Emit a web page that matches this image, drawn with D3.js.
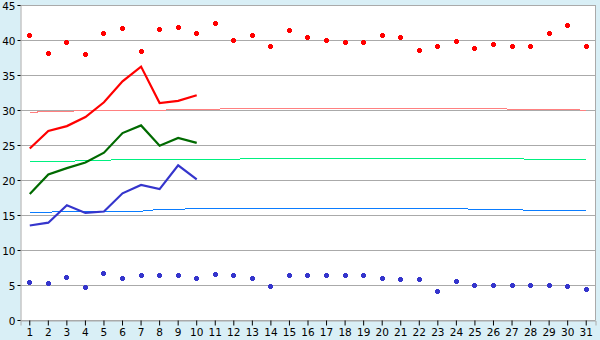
<!DOCTYPE html>
<html>
<head>
<meta charset="utf-8">
<script src="https://cdn.jsdelivr.net/npm/d3@7"></script>
<style>
  body { margin: 0; background: #d9eff6; }
  svg { display: block; font-family: "DejaVu Sans", Verdana, sans-serif; font-size: 10.5px; }
</style>
</head>
<body>
<svg id="chart" width="600" height="340"></svg>
<script>
// days of month
var days = d3.range(1, 32);
var yTicks = [0, 5, 10, 15, 20, 25, 30, 35, 40, 45];

// record highs / lows (markers)
var recordHigh = [40.7, 38.1, 39.7, 38.0, 41.0, 41.7, 38.4, 41.5, 41.8, 41.0,
  42.4, 40.0, 40.7, 39.0, 41.4, 40.4, 40.0, 39.7, 39.7, 40.7,
  40.4, 38.5, 39.0, 39.8, 38.8, 39.4, 39.0, 39.1, 41.0, 42.0, 39.0];
var recordLow = [5.4, 5.2, 6.1, 4.7, 6.7, 6.0, 6.4, 6.4, 6.4, 6.0,
  6.5, 6.4, 6.0, 4.8, 6.4, 6.4, 6.4, 6.4, 6.4, 6.0,
  5.8, 5.8, 4.1, 5.5, 5.0, 5.0, 5.0, 5.0, 5.0, 4.8, 4.4];

// this month (days 1-10)
var maxTemp = [24.5, 27.0, 27.7, 29.0, 31.1, 34.1, 36.2, 31.0, 31.3, 32.1];
var meanTemp = [18.0, 20.8, 21.7, 22.5, 23.9, 26.7, 27.8, 24.9, 26.0, 25.3];
var minTemp = [13.5, 13.9, 16.4, 15.3, 15.5, 18.1, 19.3, 18.7, 22.1, 20.1];

// normals
var normMax = [29.65, 29.8, 29.8, 29.95, 29.95, 29.95, 29.95, 29.95, 30.1, 30.1,
  30.1, 30.25, 30.25, 30.25, 30.25, 30.25, 30.25, 30.25, 30.25, 30.25,
  30.25, 30.25, 30.25, 30.25, 30.25, 30.25, 30.1, 30.1, 30.1, 30.1, 29.95];
var normMean = [22.65, 22.65, 22.65, 22.8, 22.8, 22.95, 22.95, 22.95, 22.95, 22.95,
  22.95, 22.95, 23.1, 23.1, 23.1, 23.1, 23.1, 23.1, 23.1, 23.1,
  23.1, 23.1, 23.1, 23.1, 23.1, 23.1, 23.1, 22.95, 22.95, 22.95, 22.95];
var normMin = [15.4, 15.4, 15.55, 15.55, 15.55, 15.55, 15.55, 15.8, 15.8, 15.95,
  15.95, 15.95, 15.95, 15.95, 15.95, 15.95, 15.95, 15.95, 15.95, 15.95,
  15.95, 15.95, 15.95, 15.95, 15.8, 15.8, 15.8, 15.65, 15.65, 15.65, 15.65];

var margin = {top: 5, right: 5, bottom: 20, left: 20};
var width = 600 - margin.left - margin.right;
var height = 340 - margin.top - margin.bottom;

var svg = d3.select('#chart');

svg.append('rect')
  .attr('x', margin.left + 0.5)
  .attr('y', margin.top)
  .attr('width', width)
  .attr('height', height)
  .attr('fill', '#fff');

var g = svg.append('g')
  .attr('transform', 'translate(' + margin.left + ',' + margin.top + ')');

var x = d3.scaleBand()
  .domain(days)
  .range([0.5, width + 0.5]);

var y = d3.scaleLinear()
  .domain([0, 45])
  .range([height, 0]);

var cx = function(d) { return x(d) + x.bandwidth() / 2; };

// grid
g.selectAll('.grid')
  .data(yTicks)
  .enter().append('line')
  .attr('class', 'grid')
  .attr('x1', 0.5)
  .attr('x2', width + 0.5)
  .attr('y1', (d) => Math.round(y(d)) + 0.5)
  .attr('y2', (d) => Math.round(y(d)) + 0.5)
  .attr('stroke', '#aaaaaa');

// right border
g.append('line')
  .attr('x1', width + 0.5).attr('x2', width + 0.5)
  .attr('y1', 0).attr('y2', height)
  .attr('stroke', '#aaaaaa');

// axes
var yAxis = g.append('g')
  .attr('transform', 'translate(0.5,0)')
  .call(d3.axisLeft(y).tickValues(yTicks).tickSize(3).tickPadding(2));

var xAxis = g.append('g')
  .attr('transform', 'translate(0,' + (height + 0.5) + ')')
  .call(d3.axisBottom(x).tickSize(5).tickPadding(3));

[yAxis, xAxis].forEach(function(a) {
  a.select('.domain').attr('stroke', '#aaaaaa');
  a.selectAll('.tick line').attr('stroke', '#000');
  a.selectAll('text')
    .attr('fill', '#000')
    .style('font-family', '"DejaVu Sans", Verdana, sans-serif')
    .style('font-size', '10.5px');
});
yAxis.selectAll('text').attr('dy', '0.45em');
yAxis.selectAll('.tick').attr('transform', (d) => 'translate(0,' + (Math.round(y(d)) + 0.5) + ')');

// lines
function drawLine(vals, color, w, crisp) {
  var line = d3.line()
    .x((d, i) => cx(days[i]))
    .y((d) => y(d));
  var p = g.append('path')
    .datum(vals)
    .attr('d', line)
    .attr('fill', 'none')
    .attr('stroke', color)
    .attr('stroke-width', w);
  if (crisp) p.attr('shape-rendering', 'crispEdges');
}

drawLine(normMax, '#ff8080', 1, true);
drawLine(normMean, '#00f080', 1, true);
drawLine(normMin, '#0a7cff', 1, true);

drawLine(maxTemp, '#ff0000', 2.2);
drawLine(meanTemp, '#006a00', 2.2);
drawLine(minTemp, '#3535cc', 2.2);

// markers: small plus
var plus = {
  draw: function(ctx, size) {
    var a = 1.5, b = 2.5;
    ctx.moveTo(-a, -b); ctx.lineTo(a, -b); ctx.lineTo(a, -a); ctx.lineTo(b, -a);
    ctx.lineTo(b, a); ctx.lineTo(a, a); ctx.lineTo(a, b); ctx.lineTo(-a, b);
    ctx.lineTo(-a, a); ctx.lineTo(-b, a); ctx.lineTo(-b, -a); ctx.lineTo(-a, -a);
    ctx.closePath();
  }
};
var sym = d3.symbol().type(plus);
var pos = (d, i) => 'translate(' + (Math.floor(cx(days[i])) + 0.5) + ',' + (Math.floor(y(d)) + 0.5) + ')';

g.selectAll('.hi')
  .data(recordHigh)
  .enter().append('path')
  .attr('class', 'hi')
  .attr('d', sym)
  .attr('transform', pos)
  .attr('shape-rendering', 'crispEdges')
  .attr('fill', '#ff0000');

g.selectAll('.lo')
  .data(recordLow)
  .enter().append('path')
  .attr('class', 'lo')
  .attr('d', sym)
  .attr('transform', pos)
  .attr('shape-rendering', 'crispEdges')
  .attr('fill', '#3535cc');
</script>
</body>
</html>
